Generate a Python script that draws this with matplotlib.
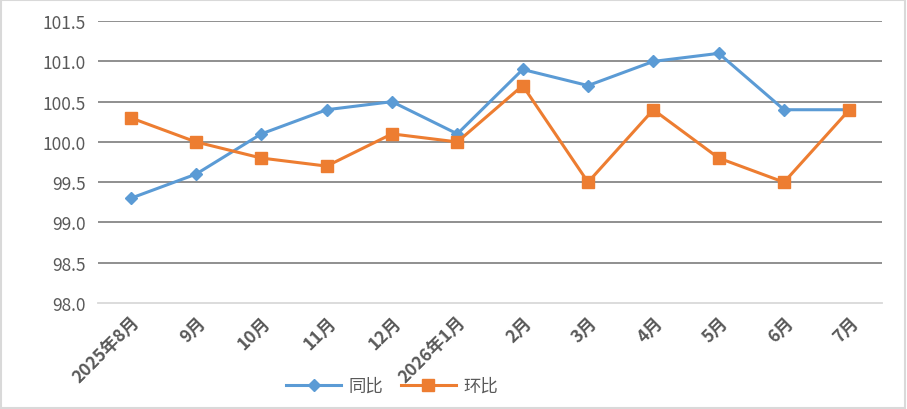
import matplotlib
matplotlib.use("Agg")
import matplotlib.pyplot as plt

plt.rcParams["font.family"] = ["Noto Sans CJK SC", "DejaVu Sans"]

months = ["2025年8月", "9月", "10月", "11月", "12月", "2026年1月",
          "2月", "3月", "4月", "5月", "6月", "7月"]
yoy = [99.3, 99.6, 100.1, 100.4, 100.5, 100.1, 100.9, 100.7, 101.0, 101.1, 100.4, 100.4]
mom = [100.3, 100.0, 99.8, 99.7, 100.1, 100.0, 100.7, 99.5, 100.4, 99.8, 99.5, 100.4]
yticks = [98.0, 98.5, 99.0, 99.5, 100.0, 100.5, 101.0, 101.5]

fig = plt.figure(figsize=(9.07, 4.10), dpi=100)
fig.patches.append(plt.Rectangle((0.001, 0.002), 0.997, 0.996, transform=fig.transFigure,
                                 fill=False, edgecolor="#d9d9d9", linewidth=1.5))
ax = fig.add_axes([0.108, 0.2585, 0.8645, 0.6875])

x = list(range(len(months)))
ax.plot(x, yoy, color="#5b9bd5", linewidth=2.2, marker="D", markersize=6, label="同比", zorder=3)
ax.plot(x, mom, color="#ed7d31", linewidth=2.2, marker="s", markersize=8, label="环比", zorder=3)

ax.set_xlim(-0.5, len(months) - 0.5)
ax.set_ylim(98.0, 101.5)
ax.set_yticks(yticks)
ax.set_yticklabels([f"{v:.1f}" for v in yticks], fontsize=12.5, color="#595959")
for v in yticks[1:]:
    ax.axhline(v, color="#878787", linewidth=1.3, zorder=1)

ax.set_xticks(x)
ax.set_xticklabels(months, rotation=45, ha="right", rotation_mode="anchor",
                   fontsize=12.5, fontweight="bold", color="#595959")
ax.tick_params(axis="x", length=0, pad=7)
ax.tick_params(axis="y", length=0, pad=9)
for s in ["top", "right", "left"]:
    ax.spines[s].set_visible(False)
ax.spines["bottom"].set_color("#d9d9d9")
ax.spines["bottom"].set_linewidth(1.3)

fig.legend(loc="center", bbox_to_anchor=(0.432, 0.056), ncol=2, frameon=False,
           fontsize=12.5, labelcolor="#595959", handlelength=3.2, handletextpad=0.4,
           columnspacing=1.0)

fig.savefig("out.png", dpi=100)
